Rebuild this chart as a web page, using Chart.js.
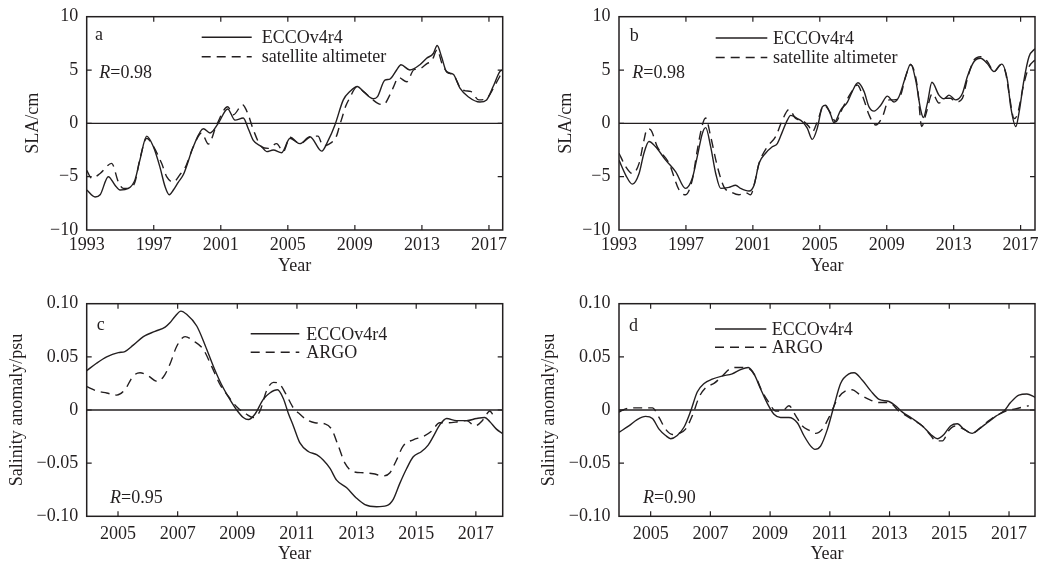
<!DOCTYPE html>
<html>
<head>
<meta charset="utf-8">
<script src="https://cdn.jsdelivr.net/npm/chart.js@4.4.1/dist/chart.umd.min.js"></script>
<style>
html, body { margin: 0; padding: 0; background: #fff; }
#wrap { position: relative; width: 1039px; height: 566px; }
.panel { position: absolute; }
</style>
</head>
<body>
<div id="wrap">
  <div class="panel" style="left:0;top:0;width:519px;height:283px"><canvas id="chartA"></canvas></div>
  <div class="panel" style="left:519px;top:0;width:520px;height:283px"><canvas id="chartB"></canvas></div>
  <div class="panel" style="left:0;top:283px;width:519px;height:283px"><canvas id="chartC"></canvas></div>
  <div class="panel" style="left:519px;top:283px;width:520px;height:283px"><canvas id="chartD"></canvas></div>
</div>
<script>
// data: [year, value]
const ink = '#231f20';
const serif = "'Liberation Serif', 'Times New Roman', serif";

const yearTicksSLA = [1993, 1997, 2001, 2005, 2009, 2013, 2017];
const yearTicksSal = [2005, 2007, 2009, 2011, 2013, 2015, 2017];
const slaTicks = [-10, -5, 0, 5, 10];
const salTicks = [-0.10, -0.05, 0, 0.05, 0.10];

// panel a - SLA (cm)
const eccoA = [
    [1993.00, -6.25], [1993.50, -6.9], [1993.80, -6.7], [1994.29, -5.0], [1994.69, -5.8], [1994.99, -6.25],
    [1995.49, -6.1], [1995.88, -5.3], [1996.18, -3.4], [1996.58, -1.2], [1996.98, -2.2], [1997.37, -4.1],
    [1997.67, -5.9], [1997.93, -6.7], [1998.17, -6.25], [1998.47, -5.5], [1998.77, -4.8], [1999.36, -2.2],
    [1999.96, -0.5], [2000.36, -0.9], [2000.85, 0.0], [2001.41, 1.35], [2001.85, 0.3], [2002.34, 0.5],
    [2002.64, -0.5], [2002.94, -1.6], [2003.44, -2.2], [2003.74, -2.65], [2004.13, -2.5], [2004.63, -2.75],
    [2005.13, -1.4], [2005.72, -1.9], [2006.32, -1.25], [2007.02, -2.6], [2007.41, -1.6], [2007.81, -0.15],
    [2008.31, 2.2], [2008.71, 3.0], [2009.15, 3.45], [2009.50, 3.0], [2010.10, 2.3], [2010.35, 2.5],
    [2010.79, 4.05], [2011.09, 4.15], [2011.49, 5.0], [2011.75, 5.5], [2012.28, 5.0], [2012.88, 5.5],
    [2013.28, 6.1], [2013.68, 6.55], [2013.91, 7.3], [2014.17, 6.25], [2014.47, 4.85], [2014.87, 4.6],
    [2015.27, 3.3], [2015.76, 2.5], [2016.46, 2.0], [2016.86, 2.2], [2017.25, 3.45], [2017.65, 4.85],
    [2017.80, 5.0]
];
const altA = [
    [1993.00, -4.4], [1993.30, -5.15], [1993.80, -4.7], [1994.49, -3.75], [1994.89, -5.5], [1995.19, -6.1],
    [1995.49, -6.1], [1995.88, -5.5], [1996.18, -3.3], [1996.58, -1.4], [1996.88, -1.9], [1997.47, -3.75],
    [1997.77, -5.0], [1998.17, -5.5], [1998.57, -4.8], [1998.86, -4.2], [1999.36, -2.2], [1999.86, -0.9],
    [2000.26, -1.95], [2000.75, -0.15], [2001.41, 1.55], [2001.75, 0.8], [2002.30, 1.75], [2002.64, 0.8],
    [2002.94, -0.6], [2003.44, -2.2], [2003.83, -2.35], [2004.33, -1.9], [2004.73, -2.65], [2005.13, -1.3],
    [2005.72, -1.9], [2006.32, -1.3], [2006.80, -1.2], [2007.10, -2.1], [2007.40, -2.0], [2007.90, -1.2],
    [2008.10, -0.15], [2008.25, 0.6], [2008.45, 1.6], [2008.70, 2.4], [2009.10, 3.4], [2009.50, 3.0],
    [2010.00, 2.3], [2010.40, 1.85], [2010.70, 1.75], [2011.10, 2.7], [2011.30, 3.4], [2011.60, 4.3],
    [2012.10, 3.9], [2012.50, 5.0], [2012.90, 5.15], [2013.30, 5.6], [2013.60, 5.9], [2013.91, 6.9],
    [2014.20, 5.6], [2014.50, 4.8], [2014.90, 4.5], [2015.30, 3.3], [2015.60, 3.05], [2015.90, 3.0],
    [2016.40, 2.2], [2016.90, 2.4], [2017.40, 3.7], [2017.80, 4.85]
];

// panel b - SLA (cm)
const eccoB = [
    [1993.00, -3.45], [1993.40, -4.85], [1993.80, -5.7], [1994.20, -4.7], [1994.49, -2.8], [1994.79, -1.7],
    [1995.19, -2.2], [1995.79, -3.45], [1996.39, -4.55], [1996.98, -6.1], [1997.38, -5.15], [1997.68, -3.1],
    [1997.98, -0.95], [1998.18, -0.4], [1998.48, -2.2], [1998.78, -4.7], [1999.08, -6.1], [1999.57, -6.0],
    [1999.97, -5.8], [2000.27, -6.1], [2000.77, -6.35], [2001.07, -5.8], [2001.37, -3.75], [2001.76, -2.8],
    [2002.16, -2.2], [2002.46, -1.9], [2002.76, -0.8], [2003.06, 0.3], [2003.26, 0.75], [2003.66, 0.45],
    [2003.96, 0.15], [2004.25, -0.45], [2004.55, -1.5], [2004.85, -0.45], [2005.15, 1.55], [2005.35, 1.7],
    [2005.65, 0.8], [2005.85, 0.05], [2006.25, 1.25], [2006.65, 2.0], [2006.94, 3.0], [2007.28, 3.8],
    [2007.64, 3.0], [2007.94, 1.55], [2008.24, 1.15], [2008.64, 1.7], [2009.04, 2.55], [2009.43, 2.0],
    [2009.73, 2.5], [2010.13, 4.4], [2010.43, 5.55], [2010.73, 4.05], [2011.03, 1.25], [2011.19, 0.55],
    [2011.43, 1.9], [2011.70, 3.85], [2012.12, 2.65], [2012.42, 2.3], [2012.72, 2.65], [2013.12, 2.2],
    [2013.52, 2.8], [2013.82, 4.4], [2014.22, 5.8], [2014.61, 6.1], [2015.01, 5.6], [2015.41, 4.85],
    [2015.87, 5.55], [2016.21, 4.05], [2016.41, 1.55], [2016.71, -0.3], [2016.90, 0.95], [2017.20, 4.05],
    [2017.50, 6.25], [2017.86, 7.0]
];
const altB = [
    [1993.00, -2.8], [1993.40, -4.05], [1993.80, -4.7], [1994.20, -3.75], [1994.49, -1.6], [1994.69, -0.5],
    [1994.89, -0.6], [1995.29, -2.2], [1995.99, -3.75], [1996.59, -6.25], [1996.98, -6.7], [1997.38, -5.3],
    [1997.68, -2.5], [1997.98, -0.15], [1998.18, 0.5], [1998.48, -1.25], [1998.88, -4.05], [1999.27, -5.95],
    [1999.77, -6.5], [2000.17, -6.7], [2000.57, -6.5], [2000.87, -6.7], [2001.07, -5.8], [2001.37, -3.75],
    [2001.86, -2.2], [2002.36, -1.25], [2002.76, 0.3], [2003.16, 1.3], [2003.56, 0.45], [2003.96, 0.25],
    [2004.35, -0.3], [2004.55, -0.8], [2004.85, 0.15], [2005.25, 1.7], [2005.65, 0.95], [2005.95, 0.15],
    [2006.35, 1.4], [2006.84, 2.8], [2007.24, 3.6], [2007.64, 2.2], [2007.94, 0.8], [2008.34, -0.15],
    [2008.74, 0.6], [2009.14, 2.2], [2009.43, 2.2], [2009.83, 2.65], [2010.13, 4.4], [2010.43, 5.5],
    [2010.83, 3.45], [2011.09, -0.3], [2011.33, 0.8], [2011.73, 2.8], [2012.12, 1.9], [2012.52, 2.35],
    [2012.82, 2.35], [2013.12, 2.0], [2013.52, 2.35], [2013.82, 4.2], [2014.22, 5.95], [2014.61, 6.25],
    [2015.01, 5.8], [2015.41, 4.85], [2015.81, 5.5], [2016.11, 4.7], [2016.31, 2.8], [2016.61, 0.45],
    [2016.80, 0.8], [2017.20, 3.75], [2017.50, 5.3], [2017.86, 5.95]
];

// panel c - salinity anomaly (psu)
const eccoC = [
    [2003.95, 0.037], [2004.28, 0.044], [2004.62, 0.050], [2005.01, 0.054], [2005.23, 0.055], [2005.51, 0.061],
    [2005.85, 0.069], [2006.24, 0.074], [2006.58, 0.078], [2006.74, 0.082], [2006.91, 0.088], [2007.11, 0.093],
    [2007.30, 0.090], [2007.64, 0.079], [2007.92, 0.061], [2008.20, 0.041], [2008.47, 0.024], [2008.75, 0.010],
    [2008.98, 0.000], [2009.20, -0.007], [2009.37, -0.009], [2009.59, -0.004], [2009.87, 0.010], [2010.09, 0.016],
    [2010.35, 0.019], [2010.54, 0.011], [2010.71, -0.003], [2010.88, -0.015], [2011.10, -0.031], [2011.38, -0.039],
    [2011.66, -0.042], [2011.88, -0.047], [2012.11, -0.055], [2012.33, -0.066], [2012.66, -0.073], [2013.00, -0.083],
    [2013.28, -0.089], [2013.67, -0.091], [2014.01, -0.090], [2014.23, -0.084], [2014.45, -0.069], [2014.68, -0.055],
    [2014.90, -0.044], [2015.18, -0.039], [2015.40, -0.033], [2015.57, -0.025], [2015.79, -0.014], [2016.02, -0.008],
    [2016.35, -0.010], [2016.69, -0.010], [2017.02, -0.008], [2017.30, -0.007], [2017.47, -0.011], [2017.69, -0.018],
    [2017.89, -0.022]
];
const argoC = [
    [2003.95, 0.022], [2004.28, 0.018], [2004.62, 0.016], [2004.96, 0.014], [2005.23, 0.019], [2005.51, 0.032],
    [2005.74, 0.035], [2006.02, 0.032], [2006.30, 0.027], [2006.52, 0.031], [2006.74, 0.043], [2006.97, 0.060],
    [2007.25, 0.069], [2007.53, 0.065], [2007.86, 0.057], [2008.14, 0.041], [2008.42, 0.024], [2008.75, 0.011],
    [2008.98, 0.003], [2009.31, -0.004], [2009.54, -0.007], [2009.76, -0.001], [2009.98, 0.018], [2010.21, 0.026],
    [2010.43, 0.024], [2010.65, 0.014], [2010.88, 0.002], [2011.10, -0.004], [2011.32, -0.009], [2011.60, -0.012],
    [2011.94, -0.013], [2012.16, -0.018], [2012.39, -0.034], [2012.61, -0.050], [2012.89, -0.058], [2013.22, -0.059],
    [2013.56, -0.060], [2013.89, -0.062], [2014.12, -0.059], [2014.34, -0.047], [2014.56, -0.034], [2014.90, -0.028],
    [2015.23, -0.025], [2015.51, -0.020], [2015.79, -0.012], [2016.07, -0.012], [2016.41, -0.011], [2016.69, -0.010],
    [2016.97, -0.015], [2017.25, -0.009], [2017.47, -0.001], [2017.56, -0.004]
];

// panel d - salinity anomaly (psu)
const eccoD = [
    [2003.94, -0.021], [2004.27, -0.015], [2004.55, -0.009], [2004.83, -0.006], [2005.06, -0.008], [2005.28, -0.018],
    [2005.50, -0.024], [2005.67, -0.027], [2005.89, -0.024], [2006.12, -0.016], [2006.34, -0.001], [2006.56, 0.017],
    [2006.79, 0.025], [2007.06, 0.029], [2007.40, 0.032], [2007.73, 0.034], [2008.01, 0.038], [2008.27, 0.040],
    [2008.46, 0.034], [2008.68, 0.020], [2008.91, 0.006], [2009.13, -0.004], [2009.35, -0.007], [2009.63, -0.007],
    [2009.91, -0.012], [2010.13, -0.024], [2010.36, -0.034], [2010.50, -0.037], [2010.69, -0.034], [2010.92, -0.018],
    [2011.14, 0.004], [2011.36, 0.025], [2011.64, 0.034], [2011.81, 0.035], [2012.09, 0.028], [2012.37, 0.018],
    [2012.65, 0.010], [2012.98, 0.008], [2013.20, 0.004], [2013.43, -0.002], [2013.76, -0.008], [2014.10, -0.015],
    [2014.38, -0.023], [2014.60, -0.027], [2014.82, -0.023], [2015.04, -0.015], [2015.27, -0.013], [2015.49, -0.018],
    [2015.77, -0.022], [2015.99, -0.018], [2016.27, -0.012], [2016.55, -0.006], [2016.83, -0.001], [2017.05, 0.007],
    [2017.33, 0.014], [2017.60, 0.015], [2017.87, 0.012]
];
const argoD = [
    [2003.94, -0.002], [2004.16, 0.001], [2004.50, 0.002], [2004.83, 0.002], [2005.06, 0.002], [2005.28, -0.007],
    [2005.50, -0.018], [2005.73, -0.023], [2005.95, -0.022], [2006.17, -0.018], [2006.40, -0.005], [2006.62, 0.012],
    [2006.84, 0.021], [2007.12, 0.025], [2007.40, 0.032], [2007.62, 0.038], [2007.85, 0.040], [2008.07, 0.040],
    [2008.29, 0.039], [2008.52, 0.031], [2008.74, 0.017], [2008.96, 0.007], [2009.19, -0.001], [2009.41, -0.001],
    [2009.63, 0.004], [2009.85, -0.005], [2010.08, -0.015], [2010.30, -0.019], [2010.52, -0.022], [2010.75, -0.018],
    [2010.97, -0.007], [2011.25, 0.010], [2011.53, 0.018], [2011.75, 0.019], [2011.98, 0.015], [2012.31, 0.010],
    [2012.65, 0.007], [2012.98, 0.007], [2013.31, -0.001], [2013.54, -0.005], [2013.82, -0.010], [2014.10, -0.015],
    [2014.38, -0.024], [2014.54, -0.029], [2014.77, -0.029], [2014.99, -0.019], [2015.21, -0.015], [2015.49, -0.018],
    [2015.77, -0.022], [2015.99, -0.018], [2016.33, -0.010], [2016.66, -0.004], [2016.99, 0.000], [2017.21, 0.001],
    [2017.49, 0.003], [2017.66, 0.004]
];

function toXY(rows) {
    return rows.map(r => ({ x: r[0], y: r[1] }));
}

function minus(s) {
    return s.replace('-', '\u2212');
}

// frame, inward ticks, zero line, legend and panel labels
const deco = {
    id: 'deco',
    beforeDatasetsDraw(chart) {
        const { ctx, chartArea: a, scales: { y } } = chart;
        const y0 = y.getPixelForValue(0);
        ctx.save();
        ctx.strokeStyle = ink;
        ctx.lineWidth = 1.3;
        ctx.beginPath();
        ctx.moveTo(a.left, y0);
        ctx.lineTo(a.right, y0);
        ctx.stroke();
        ctx.restore();
    },
    afterDatasetsDraw(chart, args, o) {
        const { ctx, chartArea: a, scales: { x, y } } = chart;
        ctx.save();
        ctx.strokeStyle = ink;
        ctx.fillStyle = ink;
        ctx.lineWidth = 1.5;
        ctx.strokeRect(a.left, a.top, a.right - a.left, a.bottom - a.top);
        ctx.lineWidth = 1.2;
        ctx.beginPath();
        x.ticks.forEach(t => {
            const px = x.getPixelForValue(t.value);
            if (px < a.left + 2 || px > a.right - 2) return;
            ctx.moveTo(px, a.bottom); ctx.lineTo(px, a.bottom - 5);
            ctx.moveTo(px, a.top); ctx.lineTo(px, a.top + 5);
        });
        y.ticks.forEach(t => {
            const py = y.getPixelForValue(t.value);
            if (py < a.top + 2 || py > a.bottom - 2) return;
            ctx.moveTo(a.left, py); ctx.lineTo(a.left + 5, py);
            ctx.moveTo(a.right, py); ctx.lineTo(a.right - 5, py);
        });
        ctx.stroke();

        // legend
        ctx.font = `18px ${serif}`;
        ctx.textBaseline = 'alphabetic';
        chart.data.datasets.forEach((ds, i) => {
            const ly = o.legendRows[i];
            ctx.lineWidth = ds.borderWidth;
            ctx.setLineDash(ds.borderDash || []);
            ctx.beginPath();
            ctx.moveTo(o.legendX0, ly);
            ctx.lineTo(o.legendX1, ly);
            ctx.stroke();
            ctx.setLineDash([]);
            ctx.fillText(ds.label, o.legendText, ly + o.legendBase);
        });

        // panel letter
        ctx.fillText(o.letter, o.letterPos[0], o.letterPos[1]);

        // correlation
        ctx.font = `italic 18px ${serif}`;
        ctx.fillText('R', o.rPos[0], o.rPos[1]);
        const w = ctx.measureText('R').width;
        ctx.font = `18px ${serif}`;
        ctx.fillText('=' + o.r, o.rPos[0] + w, o.rPos[1]);
        ctx.restore();
    }
};

function panel(id, o) {
    const font = { family: serif, size: 18 };
    new Chart(document.getElementById(id), {
        type: 'line',
        data: {
            datasets: [
                { label: 'ECCOv4r4', data: toXY(o.ecco), borderColor: ink, borderWidth: 1.4,
                  pointRadius: 0, cubicInterpolationMode: 'monotone' },
                { label: o.obsLabel, data: toXY(o.obs), borderColor: ink, borderWidth: 1.4,
                  borderDash: [9, 6], pointRadius: 0, cubicInterpolationMode: 'monotone' }
            ]
        },
        options: {
            responsive: true,
            maintainAspectRatio: false,
            animation: false,
            layout: { padding: { top: o.top, right: o.right, left: 0, bottom: 0 } },
            plugins: { legend: { display: false }, tooltip: { enabled: false }, deco: o.deco },
            scales: {
                x: {
                    type: 'linear', min: o.xMin, max: o.xMax,
                    afterBuildTicks: s => { s.ticks = o.xTicks.map(v => ({ value: v })); },
                    afterFit: s => { s.height = o.xh; s.paddingLeft = 0; s.paddingRight = 0; },
                    grid: { display: false, drawTicks: false },
                    border: { display: false },
                    ticks: { padding: o.xPad, color: ink, font, autoSkip: false, maxRotation: 0,
                             callback: v => String(v) },
                    title: { display: true, text: 'Year', color: ink, font,
                             padding: { top: 0, bottom: o.yearPad } }
                },
                y: {
                    type: 'linear', min: o.yTicks[0], max: o.yTicks[o.yTicks.length - 1],
                    afterBuildTicks: s => { s.ticks = o.yTicks.map(v => ({ value: v })); },
                    afterFit: s => { s.width = o.yw; s.paddingTop = 0; s.paddingBottom = 0; },
                    grid: { display: false, drawTicks: false },
                    border: { display: false },
                    ticks: { padding: 8.5, color: ink, font, autoSkip: false, callback: o.yFmt },
                    title: { display: true, text: o.yTitle, color: ink, font,
                             padding: { top: o.titlePad, bottom: 0 } }
                }
            }
        },
        plugins: [deco]
    });
}

const slaFmt = v => minus(String(v));
const salFmt = v => v === 0 ? '0' : minus(v.toFixed(2));

panel('chartA', {
    ecco: eccoA, obs: altA, obsLabel: 'satellite altimeter',
    xMin: 1993, xMax: 2017.82, xTicks: yearTicksSLA, yTicks: slaTicks, yFmt: slaFmt,
    yTitle: 'SLA/cm', top: 16.7, right: 16.3, xh: 53, yw: 86.7, xPad: 4, yearPad: 5.5, titlePad: 22,
    deco: { letter: 'a', letterPos: [95, 40], r: '0.98', rPos: [99.3, 78.3],
            legendX0: 201.7, legendX1: 251.7, legendText: 261.7, legendRows: [37.3, 56.7], legendBase: 5.5 }
});

panel('chartB', {
    ecco: eccoB, obs: altB, obsLabel: 'satellite altimeter',
    xMin: 1993, xMax: 2017.86, xTicks: yearTicksSLA, yTicks: slaTicks, yFmt: slaFmt,
    yTitle: 'SLA/cm', top: 16.7, right: 4, xh: 53, yw: 100, xPad: 4, yearPad: 5.5, titlePad: 36,
    deco: { letter: 'b', letterPos: [110.7, 41], r: '0.98', rPos: [113.3, 78.3],
            legendX0: 196.7, legendX1: 248.3, legendText: 254, legendRows: [38, 57.5], legendBase: 5.5 }
});

panel('chartC', {
    ecco: eccoC, obs: argoC, obsLabel: 'ARGO',
    xMin: 2003.95, xMax: 2017.9, xTicks: yearTicksSal, yTicks: salTicks, yFmt: salFmt,
    yTitle: 'Salinity anomaly/psu', top: 20.7, right: 16.3, xh: 49.7, yw: 86.7, xPad: 7, yearPad: 0.5, titlePad: 6,
    deco: { letter: 'c', letterPos: [96.7, 46.7], r: '0.95', rPos: [110, 220.3],
            legendX0: 250.7, legendX1: 299.3, legendText: 306.3, legendRows: [50.7, 69.3], legendBase: 6 }
});

panel('chartD', {
    ecco: eccoD, obs: argoD, obsLabel: 'ARGO',
    xMin: 2003.94, xMax: 2017.87, xTicks: yearTicksSal, yTicks: salTicks, yFmt: salFmt,
    yTitle: 'Salinity anomaly/psu', top: 20.7, right: 4, xh: 49.7, yw: 100, xPad: 7, yearPad: 0.5, titlePad: 19,
    deco: { letter: 'd', letterPos: [110, 48.3], r: '0.90', rPos: [124, 220],
            legendX0: 196, legendX1: 247.3, legendText: 252.7, legendRows: [46, 64.3], legendBase: 5.5 }
});
</script>
</body>
</html>
